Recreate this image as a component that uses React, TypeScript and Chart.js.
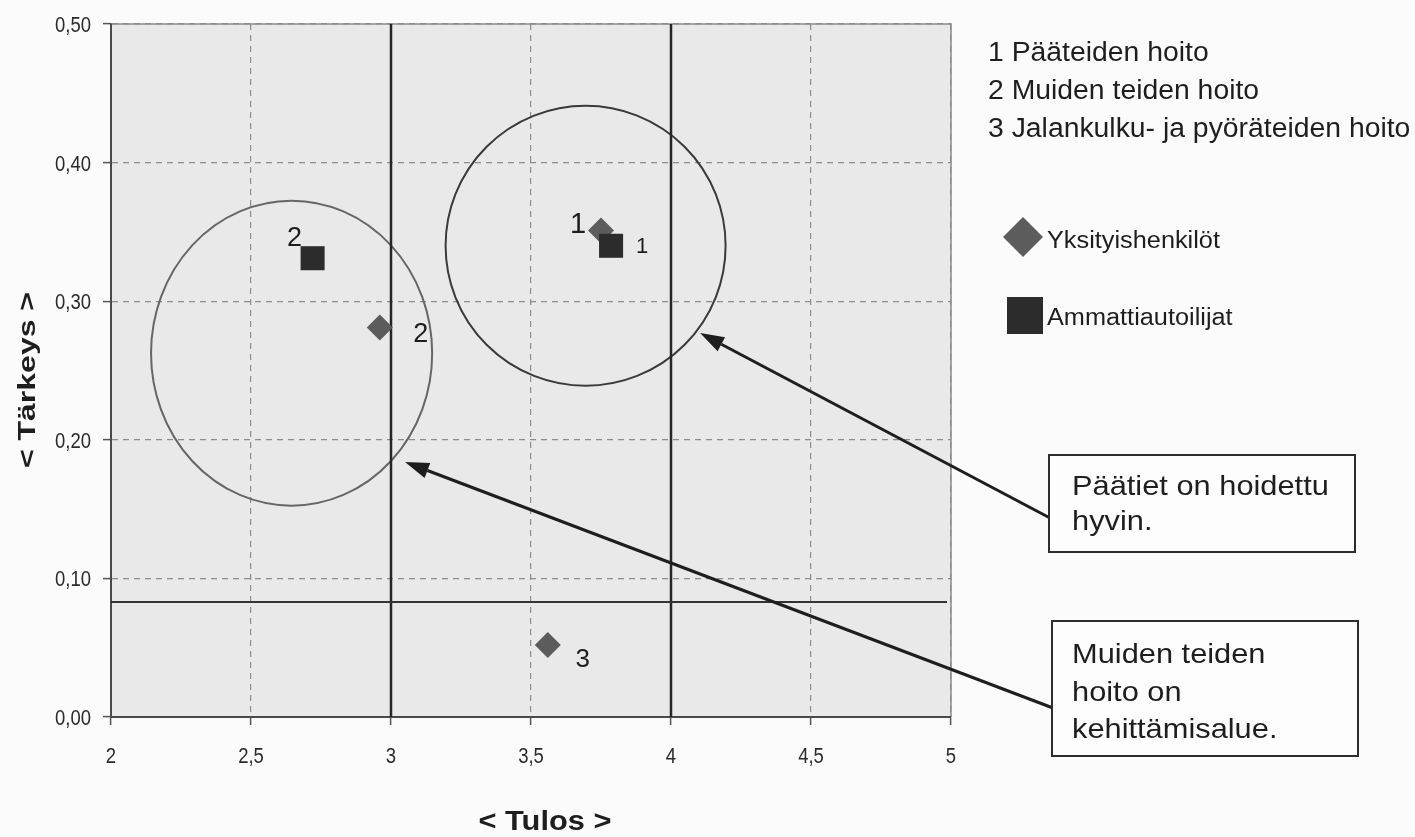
import React, { useEffect, useRef } from "react";
import { Chart, registerables } from "chart.js";

Chart.register(...registerables);

// ---------- data ----------
const seriesNames = ["Yksityishenkilöt", "Ammattiautoilijat"];
const privateX = [3.75, 2.96, 3.56];
const privateY = [0.351, 0.281, 0.052];
const privateLabels = ["1", "2", "3"];
const proX = [3.786, 2.72];
const proY = [0.34, 0.331];
const proLabels = ["1", "2"];
const categoryNames = ["1 Pääteiden hoito", "2 Muiden teiden hoito", "3 Jalankulku- ja pyöräteiden hoito"];
const xTickMin = 2;
const xTickMax = 5;
const xTickStep = 0.5;
const yTickMin = 0;
const yTickMax = 0.5;
const yTickStep = 0.1;
const refLinesX = [3, 4];
const refLinesY = [0.083];
const circleCX = [3.695, 2.645];
const circleCY = [0.34, 0.2625];
const circleRX = [0.5, 0.502];
const circleRY = [0.101, 0.11];
const noteTexts = [["Päätiet on hoidettu", "hyvin."], ["Muiden teiden", "hoito on", "kehittämisalue."]];
const arrowTargetX = [4.104, 3.05];
const arrowTargetY = [0.277, 0.184];
const xTitle = "< Tulos >";
const yTitle = "< Tärkeys >";

// ---------- styles ----------
const SANS = "'Liberation Sans', Arial, sans-serif";
const privateColor = "#5c5c5c";
const proColor = "#2c2c2c";
const privateLabelStyle = [
  { dx: -23, dy: -8, size: 29 },
  { dx: 41, dy: 5, size: 27 },
  { dx: 35, dy: 13, size: 26 },
];
const proLabelStyle = [
  { dx: 31, dy: -1, size: 22 },
  { dx: -18, dy: -22, size: 27 },
];
const circleStyle = [
  { color: "#3a3a3a", width: 2 },
  { color: "#666666", width: 2 },
];
const noteBoxes = [
  { x: 1049, y: 455, w: 306, h: 97, textX: 1072, baseline0: 495, lineH: 35 },
  { x: 1052, y: 621, w: 306, h: 135, textX: 1072, baseline0: 663, lineH: 37.5 },
];
const arrowStarts = [
  { x: 1050, y: 518 },
  { x: 1053, y: 708 },
];
const tickFont = `22px ${SANS}`;
const tickSx = 0.84;

function drawText(
  ctx: CanvasRenderingContext2D,
  s: string,
  x: number,
  y: number,
  font: string,
  sx = 1,
  align: CanvasTextAlign = "left",
  color = "#1e1e1e"
) {
  ctx.save();
  ctx.font = font;
  ctx.fillStyle = color;
  ctx.textAlign = align;
  ctx.textBaseline = "alphabetic";
  ctx.translate(x, y);
  ctx.scale(sx, 1);
  ctx.fillText(s, 0, 0);
  ctx.restore();
}

function drawArrow(ctx: CanvasRenderingContext2D, x1: number, y1: number, x2: number, y2: number) {
  const ang = Math.atan2(y2 - y1, x2 - x1);
  const headLen = 24;
  const headHalf = 8;
  const bx = x2 - Math.cos(ang) * headLen;
  const by = y2 - Math.sin(ang) * headLen;
  ctx.save();
  ctx.strokeStyle = "#1e1e1e";
  ctx.fillStyle = "#1e1e1e";
  ctx.lineWidth = 3;
  ctx.beginPath();
  ctx.moveTo(x1, y1);
  ctx.lineTo(bx, by);
  ctx.stroke();
  ctx.beginPath();
  ctx.moveTo(x2, y2);
  ctx.lineTo(bx + Math.sin(ang) * headHalf, by - Math.cos(ang) * headHalf);
  ctx.lineTo(bx - Math.sin(ang) * headHalf, by + Math.cos(ang) * headHalf);
  ctx.closePath();
  ctx.fill();
  ctx.restore();
}

const fmtX = (v: number) => String(v).replace(".", ",");
const fmtY = (v: number) => Number(v).toFixed(2).replace(".", ",");

const decorPlugin = {
  id: "decor",
  beforeDraw(chart: any) {
    const { ctx, chartArea: a } = chart;
    ctx.save();
    ctx.fillStyle = "#fbfbfb";
    ctx.fillRect(0, 0, chart.width, chart.height);
    ctx.fillStyle = "#e9e9e9";
    ctx.fillRect(a.left, a.top, a.right - a.left, a.bottom - a.top);
    ctx.restore();
  },
  beforeDatasetsDraw(chart: any) {
    const { ctx, chartArea: a } = chart;
    const xs = chart.scales.x;
    const ys = chart.scales.y;
    ctx.save();
    // frame
    ctx.strokeStyle = "#8a8a8a";
    ctx.lineWidth = 1.5;
    ctx.beginPath();
    ctx.moveTo(a.left, a.top);
    ctx.lineTo(a.right, a.top);
    ctx.lineTo(a.right, a.bottom);
    ctx.stroke();
    ctx.strokeStyle = "#4a4a4a";
    ctx.lineWidth = 2;
    ctx.beginPath();
    ctx.moveTo(a.left, a.top);
    ctx.lineTo(a.left, a.bottom);
    ctx.lineTo(a.right, a.bottom);
    ctx.stroke();
    // circles
    circleCX.forEach((cx, i) => {
      const px = xs.getPixelForValue(cx);
      const py = ys.getPixelForValue(circleCY[i]);
      const rx = Math.abs(xs.getPixelForValue(cx + circleRX[i]) - px);
      const ry = Math.abs(ys.getPixelForValue(circleCY[i] + circleRY[i]) - py);
      ctx.strokeStyle = circleStyle[i].color;
      ctx.lineWidth = circleStyle[i].width;
      ctx.beginPath();
      ctx.ellipse(px, py, rx, ry, 0, 0, Math.PI * 2);
      ctx.stroke();
    });
    // reference lines
    ctx.strokeStyle = "#262626";
    ctx.lineWidth = 2.5;
    refLinesX.forEach((v) => {
      const px = Math.round(xs.getPixelForValue(v));
      ctx.beginPath();
      ctx.moveTo(px, a.top);
      ctx.lineTo(px, a.bottom);
      ctx.stroke();
    });
    ctx.strokeStyle = "#333333";
    ctx.lineWidth = 2;
    refLinesY.forEach((v) => {
      const py = Math.round(ys.getPixelForValue(v));
      ctx.beginPath();
      ctx.moveTo(a.left, py);
      ctx.lineTo(a.right - 4, py);
      ctx.stroke();
    });
    ctx.restore();
  },
  afterDraw(chart: any) {
    const { ctx, chartArea: a } = chart;
    const xs = chart.scales.x;
    const ys = chart.scales.y;
    // tick labels from the scales
    xs.ticks.forEach((t: any) => {
      drawText(ctx, fmtX(t.value), xs.getPixelForValue(t.value), a.bottom + 46, tickFont, tickSx, "center", "#2a2a2a");
    });
    ys.ticks.forEach((t: any) => {
      drawText(ctx, fmtY(t.value), a.left - 20, ys.getPixelForValue(t.value) + 8, tickFont, tickSx, "right", "#2a2a2a");
    });
    // point labels
    privateLabels.forEach((t, i) => {
      const st = privateLabelStyle[i];
      const px = xs.getPixelForValue(privateX[i]) + st.dx;
      const py = ys.getPixelForValue(privateY[i]) + st.dy;
      drawText(ctx, t, px, py + st.size * 0.36, `${st.size}px ${SANS}`, 1, "center");
    });
    proLabels.forEach((t, i) => {
      const st = proLabelStyle[i];
      const px = xs.getPixelForValue(proX[i]) + st.dx;
      const py = ys.getPixelForValue(proY[i]) + st.dy;
      drawText(ctx, t, px, py + st.size * 0.36, `${st.size}px ${SANS}`, 1, "center");
    });
    // arrows
    arrowTargetX.forEach((tx, i) => {
      drawArrow(ctx, arrowStarts[i].x, arrowStarts[i].y, xs.getPixelForValue(tx), ys.getPixelForValue(arrowTargetY[i]));
    });
    // note boxes
    noteBoxes.forEach((b, i) => {
      ctx.save();
      ctx.fillStyle = "#fdfdfd";
      ctx.fillRect(b.x, b.y, b.w, b.h);
      ctx.strokeStyle = "#2e2e2e";
      ctx.lineWidth = 2;
      ctx.strokeRect(b.x, b.y, b.w, b.h);
      ctx.restore();
      noteTexts[i].forEach((line, j) => {
        drawText(ctx, line, b.textX, b.baseline0 + j * b.lineH, `28px ${SANS}`, 1.1);
      });
    });
    // category list
    categoryNames.forEach((c, i) => {
      drawText(ctx, c, 988, 61 + i * 38, `27px ${SANS}`, 1.05);
    });
    // legend markers
    ctx.save();
    ctx.fillStyle = privateColor;
    ctx.beginPath();
    ctx.moveTo(1023, 217);
    ctx.lineTo(1043, 237);
    ctx.lineTo(1023, 257);
    ctx.lineTo(1003, 237);
    ctx.closePath();
    ctx.fill();
    ctx.fillStyle = proColor;
    ctx.fillRect(1007, 297, 36, 37);
    ctx.restore();
    drawText(ctx, seriesNames[0], 1047, 248, `23px ${SANS}`, 1.1);
    drawText(ctx, seriesNames[1], 1047, 325, `23px ${SANS}`, 1.1);
    // axis titles
    drawText(ctx, xTitle, 545, 830, `bold 28px ${SANS}`, 1.1, "center");
    ctx.save();
    ctx.translate(35, 380);
    ctx.rotate(-Math.PI / 2);
    ctx.font = `bold 23px ${SANS}`;
    const w = ctx.measureText(yTitle).width;
    ctx.scale(176 / w, 1);
    ctx.fillStyle = "#1e1e1e";
    ctx.textAlign = "center";
    ctx.textBaseline = "alphabetic";
    ctx.fillText(yTitle, 0, 0);
    ctx.restore();
  },
};

export default function App() {
  const ref = useRef<HTMLCanvasElement | null>(null);
  useEffect(() => {
    if (!ref.current) return;
    const chart = new Chart(ref.current, {
      type: "scatter",
      data: {
        datasets: [
          {
            label: seriesNames[0],
            data: privateX.map((x, i) => ({ x, y: privateY[i] })),
            pointStyle: "rectRot",
            pointRadius: 13,
            pointHoverRadius: 13,
            backgroundColor: privateColor,
            borderColor: privateColor,
            borderWidth: 0,
            order: 2,
          },
          {
            label: seriesNames[1],
            data: proX.map((x, i) => ({ x, y: proY[i] })),
            pointStyle: "rect",
            pointRadius: 17,
            pointHoverRadius: 17,
            backgroundColor: proColor,
            borderColor: proColor,
            borderWidth: 0,
            order: 1,
          },
        ],
      },
      options: {
        animation: false,
        responsive: true,
        maintainAspectRatio: false,
        events: [],
        layout: { padding: { left: 0, top: 24, right: 464, bottom: 0 } },
        plugins: { legend: { display: false }, tooltip: { enabled: false } },
        scales: {
          x: {
            type: "linear",
            min: xTickMin,
            max: xTickMax,
            afterFit: (s: any) => {
              s.height = 120;
            },
            ticks: { stepSize: xTickStep, display: false },
            grid: { color: "#8c8c8c", lineWidth: 1.2, tickLength: 8, tickColor: "#555", tickWidth: 1.5 },
            border: { display: true, color: "#4a4a4a", width: 2, dash: [6, 5] },
          },
          y: {
            type: "linear",
            min: yTickMin,
            max: yTickMax,
            afterFit: (s: any) => {
              s.width = 111;
            },
            ticks: { stepSize: yTickStep, display: false },
            grid: { color: "#8c8c8c", lineWidth: 1.2, tickLength: 8, tickColor: "#555", tickWidth: 1.5 },
            border: { display: true, color: "#4a4a4a", width: 2, dash: [6, 5] },
          },
        },
      },
      plugins: [decorPlugin],
    } as any);
    return () => chart.destroy();
  }, []);
  return (
    <div style={{ position: "fixed", left: 0, top: 0, width: 1415, height: 837 }}>
      <canvas ref={ref} />
    </div>
  );
}
